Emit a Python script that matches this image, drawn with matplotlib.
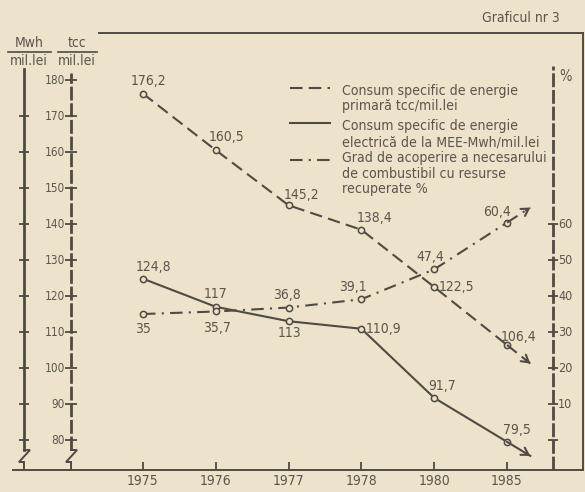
import matplotlib
matplotlib.use("Agg")
import matplotlib.pyplot as plt
from matplotlib import font_manager
from matplotlib.lines import Line2D

# date grafic
ani = ["1975", "1976", "1977", "1978", "1980", "1985"]
tcc = [176.2, 160.5, 145.2, 138.4, 122.5, 106.4]      # tcc/mil.lei
mwh = [124.8, 117.0, 113.0, 110.9, 91.7, 79.5]        # Mwh/mil.lei
grad = [35.0, 35.7, 36.8, 39.1, 47.4, 60.4]           # %

# offset etichete (px, x dreapta / y sus)
off_tcc = [(5, 13), (11, 13), (13, 10), (13, 12), (20, 0), (12, 8)]
off_mwh = [(10, 12), (0, 13), (1, -12), (21, 0), (8, 12), (10, 12)]
off_grad = [(0, -15), (1, -17), (-2, 13), (-9, 12), (-4, 12), (-10, 11)]

fonts = font_manager.fontManager.ttflist
cond = [f for f in fonts if "ondensed" in f.fname or "Narrow" in f.name]
cond_names = sorted({f.name for f in cond})
if any(f.name == "DejaVu Sans" for f in cond):
    FONT, STRETCH, K = "DejaVu Sans", "condensed", 1.0
elif cond_names:
    FONT, STRETCH, K = cond_names[0], "condensed", 1.0
else:
    FONT, STRETCH, K = "DejaVu Sans", "normal", 0.92
plt.rcParams["font.family"] = [FONT, "DejaVu Sans"]
plt.rcParams["font.stretch"] = STRETCH

BG = "#ede3cb"
INK = "#4f4a44"
TXT = "#5a554e"

W, H = 585, 492
fig = plt.figure(figsize=(W / 100, H / 100), dpi=100, facecolor=BG)
# axa: x 13..583 px, y 33..470 px (de sus)
ax = fig.add_axes([13 / W, (H - 470) / H, 570 / W, 437 / H])
ax.set_facecolor(BG)
XL = (-1.786, 6.044)
YL = (71.67, 193.06)
ax.set_xlim(*XL)
ax.set_ylim(*YL)
PX_X = 570 / (XL[1] - XL[0])
PX_Y = 437 / (YL[1] - YL[0])

ax2 = ax.twinx()
ax2.set_ylim(YL[0] - 80, YL[1] - 80)
for a in (ax, ax2):
    for s in a.spines.values():
        s.set_visible(False)
    a.set_yticks([])
ax.spines["bottom"].set_visible(True)
ax.spines["right"].set_visible(True)
ax.spines["top"].set_visible(True)
ax.spines["top"].set_bounds(-0.6, XL[1])
for s in ("bottom", "right", "top"):
    ax.spines[s].set_color(INK)
    ax.spines[s].set_linewidth(1.4)

x = list(range(len(ani)))
ax.set_xticks(x)
ax.set_xticklabels(ani, fontsize=10 * K, color=TXT)
ax.tick_params(axis="x", direction="in", length=6, width=1.3, color=INK, pad=3)

ls_dash = (0, (6, 3))
ls_dashdot = (0, (6, 3, 1, 3))
LW = 1.5
mk = dict(marker="o", ms=4.5, mfc=BG, mec=INK, mew=1.1)


def fmt(v):
    s = f"{v:g}"
    return s.replace(".", ",")


def serie(a, vals, ls, offs):
    a.plot(x, vals, color=INK, lw=LW, ls=ls, **mk)
    # prelungire cu sageata
    tx = x[-1] + 0.32
    ty = vals[-1] + 0.32 * (vals[-1] - vals[-2])
    a.plot([x[-1], tx], [vals[-1], ty], color=INK, lw=LW, ls=ls)
    bx = tx - 0.06
    by = ty - 0.06 * (vals[-1] - vals[-2])
    a.annotate("", xy=(tx, ty), xytext=(bx, by),
                arrowprops=dict(arrowstyle="->,head_length=0.5,head_width=0.3",
                                color=INK, lw=LW, shrinkA=0, shrinkB=0))
    for xi, v, (dx, dy) in zip(x, vals, offs):
        ha = "left" if dx >= 20 else "center"
        ddx = 4 if ha == "left" else dx
        a.annotate(fmt(v), (xi, v), xytext=(ddx * 0.72, dy * 0.72),
                   textcoords="offset points", ha=ha, va="center",
                   fontsize=10 * K, color=TXT)


serie(ax, tcc, ls_dash, off_tcc)
serie(ax, mwh, "-", off_mwh)
serie(ax2, grad, ls_dashdot, off_grad)

# axe verticale stanga
X_MWH, X_TCC, X_PCT = -1.635, -0.989, 5.632
ticks = list(range(80, 190, 10))
brk_top = YL[0] + 20 / PX_Y


def zigzag(xa):
    px = 1 / PX_X
    py = 1 / PX_Y
    xs = [xa, xa + 6 * px, xa - 5 * px, xa, xa]
    ys = [brk_top, brk_top, YL[0] + 8 * py, YL[0] + 8 * py, YL[0]]
    ax.plot(xs, ys, color=INK, lw=1.4, solid_joinstyle="miter")


ax.plot([X_MWH, X_MWH], [brk_top, 183], color=INK, lw=2.0)
ax.plot([X_MWH] * 10, ticks[:10], ls="", marker="_", ms=7, mew=1.3, color=INK)
zigzag(X_MWH)
ax.plot([X_TCC, X_TCC], [brk_top, 182], color=INK, lw=2.0, ls=(0, (5, 1)))
ax.plot([X_TCC] * len(ticks), ticks, ls="", marker="_", ms=8, mew=1.3, color=INK)
zigzag(X_TCC)
for t in ticks:
    ax.text(X_TCC - 6 / PX_X, t, str(t), ha="right", va="center", fontsize=8.5 * K, color=TXT)

# axa %
pct_ticks = list(range(0, 70, 10))
ax2.plot([X_PCT, X_PCT], [YL[0] - 80, 104], color=INK, lw=2.0, ls=(0, (5, 1)))
ax2.plot([X_PCT] * len(pct_ticks), pct_ticks, ls="", marker="_", ms=7, mew=1.3, color=INK)
for t in pct_ticks[1:]:
    ax2.text(X_PCT + 5 / PX_X, t, str(t), ha="left", va="center", fontsize=9 * K, color=TXT)
ax2.text(X_PCT + 6 / PX_X, 101, "%", ha="left", va="center", fontsize=10.5 * K, color=TXT)


# texte in pixeli figura
def fx(px):
    return px / W


def fy(py):
    return 1 - py / H


fig.text(fx(521), fy(18), "Graficul nr 3", ha="center", va="center", fontsize=10 * K, color=TXT)
for cx, top in ((29, "Mwh"), (77, "tcc")):
    fig.text(fx(cx), fy(43), top, ha="center", va="center", fontsize=10 * K, color=TXT)
    fig.text(fx(cx), fy(61), "mil.lei", ha="center", va="center", fontsize=10 * K, color=TXT)
fig.add_artist(Line2D([fx(8), fx(51)], [fy(52), fy(52)], color=INK, lw=1.2))
fig.add_artist(Line2D([fx(58), fx(97)], [fy(52), fy(52)], color=INK, lw=1.2))

# legenda
leg = [
    (88, ls_dash, ["Consum specific de energie", "primară tcc/mil.lei"]),
    (123, "-", ["Consum specific de energie", "electrică de la MEE-Mwh/mil.lei"]),
    (160, ls_dashdot, ["Grad de acoperire a necesarului", "de combustibil cu resurse",
                       "recuperate %"]),
]
ty = [[91, 106], [126, 142], [158, 174, 189]]
for (sy, ls, lines), ys in zip(leg, ty):
    fig.add_artist(Line2D([fx(290), fx(330)], [fy(sy), fy(sy)], color=INK, lw=LW, ls=ls))
    for t, yy in zip(lines, ys):
        fig.text(fx(342), fy(yy), t, ha="left", va="center", fontsize=10.1 * K, color=TXT)

fig.savefig("out.png", dpi=100, facecolor=BG)
